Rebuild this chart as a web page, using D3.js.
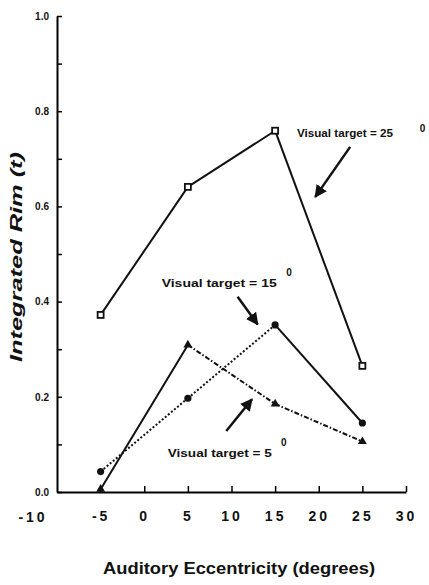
<!DOCTYPE html>
<html>
<head>
<meta charset="utf-8">
<script src="https://cdn.jsdelivr.net/npm/d3@7"></script>
<style>
  body { margin: 0; background: #fff; }
  svg { display: block; font-family: "Liberation Sans", Arial, sans-serif; }
</style>
</head>
<body>
<svg id="chart" width="429" height="585"></svg>
<script>
// data
const eccentricity = [-5, 5, 15, 25];
const target25 = [0.372, 0.641, 0.759, 0.265];
const target15 = [0.043, 0.197, 0.351, 0.145];
const target5 = [0.006, 0.309, 0.185, 0.106];

const xTicks = [-10, -5, 0, 5, 10, 15, 20, 25, 30];
const yTicks = [0, 0.1, 0.2, 0.3, 0.4, 0.5, 0.6, 0.7, 0.8, 0.9, 1.0];
const yTickLabels = ["0.0", "0.2", "0.4", "0.6", "0.8", "1.0"];

const labels = [
  { text: "Visual target = 25", deg: "0", x: 17.5, y: 0.746, sx: 31.9, sy: 0.756, w: 96 },
  { text: "Visual target = 15", deg: "0", x: 2.0, y: 0.431, sx: 16.6, sy: 0.454, w: 115 },
  { text: "Visual target = 5", deg: "0", x: 2.7, y: 0.074, sx: 16.0, sy: 0.097, w: 104 }
];
const arrows = [
  { x1: 23.6, y1: 0.725, x2: 19.6, y2: 0.62 },
  { x1: 10.7, y1: 0.41, x2: 13.0, y2: 0.352 },
  { x1: 9.4, y1: 0.128, x2: 12.35, y2: 0.195 }
];

const svg = d3.select("#chart");
const x = d3.scaleLinear().domain([-10, 30]).range([57, 406]);
const y = d3.scaleLinear().domain([0, 1]).range([492, 16]);

// X axis
const xAxis = svg.append("g")
  .attr("transform", "translate(0," + y(0) + ")")
  .call(d3.axisBottom(x).tickValues(xTicks).tickSizeInner(-6).tickSizeOuter(0).tickPadding(19)
    .tickFormat(d => d === -10 ? "" : d));
xAxis.select(".domain").attr("stroke-width", 2);
xAxis.selectAll(".tick line").attr("stroke-width", 1.5);
xAxis.selectAll(".tick text")
  .attr("font-size", 14).attr("font-weight", "bold").attr("letter-spacing", 3)
  .attr("fill", "#111");
// -10 label sits left under the y axis
svg.append("text").attr("x", 33).attr("y", 522).attr("text-anchor", "middle")
  .attr("font-size", 14).attr("font-weight", "bold").attr("letter-spacing", 3).attr("fill", "#111")
  .text("-10");
xAxis.selectAll(".tick").filter(d => d === -10).select("line").remove();

// Y axis
const yAxis = svg.append("g")
  .attr("transform", "translate(" + x(-10) + ",0)")
  .call(d3.axisLeft(y).tickValues(yTicks).tickSizeInner(-5).tickSizeOuter(0).tickPadding(8)
    .tickFormat(d => {
      const i = Math.round(d * 10);
      return i % 2 === 0 ? yTickLabels[i / 2] : "";
    }));
yAxis.select(".domain").attr("stroke-width", 2);
yAxis.selectAll(".tick line").attr("stroke-width", 1.5);
yAxis.selectAll(".tick text")
  .attr("font-size", 10).attr("font-weight", "bold").attr("fill", "#111");

// axis titles
svg.append("text")
  .attr("x", 239).attr("y", 574).attr("text-anchor", "middle")
  .attr("font-size", 17).attr("font-weight", "bold")
  .attr("textLength", 272).attr("lengthAdjust", "spacingAndGlyphs")
  .attr("fill", "#111")
  .text("Auditory Eccentricity (degrees)");
svg.append("text")
  .attr("transform", "translate(22,257) rotate(-90)")
  .attr("text-anchor", "middle")
  .attr("font-size", 16).attr("font-weight", "bold").attr("font-style", "italic")
  .attr("textLength", 210).attr("lengthAdjust", "spacingAndGlyphs")
  .attr("fill", "#111")
  .text("Integrated Rim (t)");

// line segments, each segment has its own dash style
function drawSeries(vals, dashes) {
  const pts = eccentricity.map((e, i) => [e, vals[i]]);
  for (let i = 0; i < pts.length - 1; i++) {
    svg.append("line")
      .attr("x1", x(pts[i][0])).attr("y1", y(pts[i][1]))
      .attr("x2", x(pts[i + 1][0])).attr("y2", y(pts[i + 1][1]))
      .attr("stroke", "#111").attr("stroke-width", 2)
      .attr("stroke-dasharray", dashes[i]);
  }
  return pts;
}

const p25 = drawSeries(target25, [null, null, null]);
const p15 = drawSeries(target15, ["2,2", "2,2", null]);
const p5 = drawSeries(target5, [null, "5,2,1.5,2", "5,2,1.5,2"]);

// markers
svg.append("g").selectAll("rect").data(p25).enter().append("rect")
  .attr("x", d => x(d[0]) - 3).attr("y", d => y(d[1]) - 3)
  .attr("width", 6).attr("height", 6)
  .attr("fill", "#fff").attr("stroke", "#111").attr("stroke-width", 1.8);

svg.append("g").selectAll("circle").data(p15).enter().append("circle")
  .attr("cx", d => x(d[0])).attr("cy", d => y(d[1])).attr("r", 3.6)
  .attr("fill", "#111");

const tri = d3.symbol().type(d3.symbolTriangle).size(34);
svg.append("g").selectAll("path").data(p5).enter().append("path")
  .attr("transform", d => "translate(" + x(d[0]) + "," + y(d[1]) + ")")
  .attr("d", tri).attr("fill", "#111");

// annotations
svg.append("defs").append("marker")
  .attr("id", "head").attr("viewBox", "0 0 10 10")
  .attr("refX", 9).attr("refY", 5)
  .attr("markerWidth", 5).attr("markerHeight", 5)
  .attr("orient", "auto")
  .append("path").attr("d", "M0,0L10,5L0,10z").attr("fill", "#111");

svg.append("g").selectAll("line").data(arrows).enter().append("line")
  .attr("x1", d => x(d.x1)).attr("y1", d => y(d.y1))
  .attr("x2", d => x(d.x2)).attr("y2", d => y(d.y2))
  .attr("stroke", "#111").attr("stroke-width", 2.5)
  .attr("marker-end", "url(#head)");

const ann = svg.append("g").selectAll("g").data(labels).enter().append("g");
ann.append("text")
  .attr("x", d => x(d.x)).attr("y", d => y(d.y))
  .attr("font-size", 11).attr("font-weight", "bold")
  .attr("textLength", d => d.w).attr("lengthAdjust", "spacingAndGlyphs")
  .attr("fill", "#111")
  .text(d => d.text);
ann.append("text")
  .attr("x", d => x(d.sx)).attr("y", d => y(d.sy))
  .attr("font-size", 10).attr("font-weight", "bold").attr("text-anchor", "middle")
  .attr("fill", "#111")
  .text(d => d.deg);
</script>
</body>
</html>
